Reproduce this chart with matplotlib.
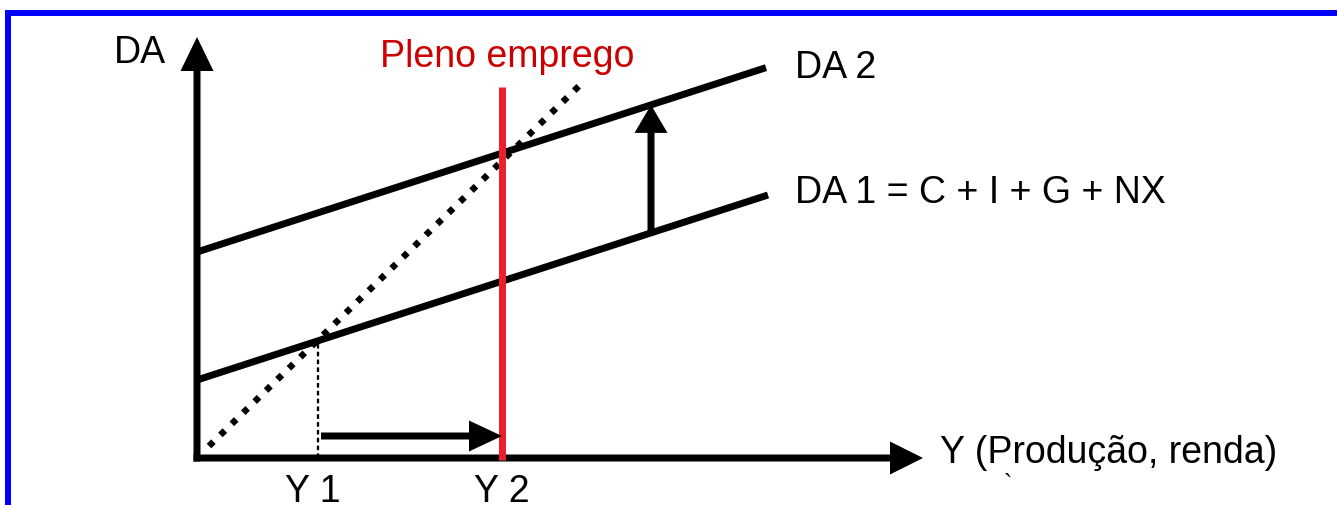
import matplotlib
matplotlib.use("Agg")
import matplotlib.pyplot as plt
from matplotlib.patches import Rectangle

plt.rcParams['font.family'] = ['Liberation Sans', 'DejaVu Sans']

# ---- diagram data (units: arbitrary, origin at axes crossing) ----
da1_x = [0, 571]
da1_intercept = 78
da2_x = [0, 569]
da2_intercept = 206
da_slope = 0.324
line45_x = [12, 382]
line45_y = [12, 372]
y1_value = 121
y2_value = 305
full_emp_top = 371
yaxis_top = 421
xaxis_right = 726
shift_x = 454
move_y = 22

labels = {
    "ylabel": "DA",
    "xlabel": "Y (Produção, renda)",
    "full": "Pleno emprego",
    "da2": "DA 2",
    "da1": "DA 1 = C + I + G + NX",
    "y1": "Y 1",
    "y2": "Y 2",
}

W, H = 1337, 506
fig = plt.figure(figsize=(W / 100, H / 100), dpi=100)
ax = fig.add_axes([0, 0, 1, 1])
ax.set_xlim(-197, W - 197)
ax.set_ylim(459 - H, 459)
ax.axis('off')

PX = 72 / 100  # points per pixel

def da(x, b):
    return [b + da_slope * xi for xi in x]

# blue frame
ax.add_patch(Rectangle((8 - 197, 459 - H - 50), 2000, (459 - 14) - (459 - H - 50),
                       fill=False, edgecolor='#0000FF', lw=6 * PX, clip_on=False))

# DA lines
ax.plot(da1_x, da(da1_x, da1_intercept), color='black', lw=7 * PX, solid_capstyle='butt')
ax.plot(da2_x, da(da2_x, da2_intercept), color='black', lw=7 * PX, solid_capstyle='butt')

# 45-degree dotted line
ax.plot(line45_x, line45_y, color='black', lw=6.5 * PX, linestyle=(0, (0.95, 1.5)),
        dash_capstyle='butt')

# Y1 thin dashed guide
y_at_y1 = da([y1_value], da1_intercept)[0]
ax.plot([y1_value, y1_value], [0, y_at_y1], color='black', lw=2.3 * PX,
        linestyle=(0, (2, 1.4)))

# full employment line
ax.plot([y2_value, y2_value], [-2, full_emp_top], color='#E8212B', lw=7 * PX,
        solid_capstyle='butt', zorder=3)

# axes arrows
ax.arrow(0, -3.5, 0, yaxis_top + 3.5, width=7, head_width=33, head_length=34,
         length_includes_head=True, color='black', lw=0)
ax.arrow(-3.5, 0, xaxis_right + 3.5, 0, width=7, head_width=33, head_length=33,
         length_includes_head=True, color='black', lw=0)

# shift arrow DA1 -> DA2
y_lo = da([shift_x], da1_intercept)[0]
y_hi = da([shift_x], da2_intercept)[0]
ax.arrow(shift_x, y_lo, 0, y_hi - y_lo, width=7, head_width=33, head_length=28,
         length_includes_head=True, color='black', lw=0)

# movement Y1 -> Y2
ax.arrow(y1_value + 3, move_y, y2_value - y1_value - 3, 0, width=7, head_width=31,
         head_length=33, length_includes_head=True, color='black', lw=0, zorder=4)

fs = 27
ax.text(-57, 396, labels["ylabel"], fontsize=fs, ha='center', va='baseline')
ax.text(310, 392, labels["full"], fontsize=fs, ha='center', va='baseline', color='#CC0000')
ax.text(598, 381, labels["da2"], fontsize=fs, ha='left', va='baseline')
ax.text(598, 256, labels["da1"], fontsize=fs, ha='left', va='baseline')
ax.text(743, -4, labels["xlabel"], fontsize=fs, ha='left', va='baseline')
ax.text(y1_value - 5, -43, labels["y1"], fontsize=fs, ha='center', va='baseline')
ax.text(y2_value, -43, labels["y2"], fontsize=fs, ha='center', va='baseline')
ax.text(811, -26, "`", fontsize=18, ha='center', va='center')

fig.savefig("out.png", dpi=100, facecolor='white')
